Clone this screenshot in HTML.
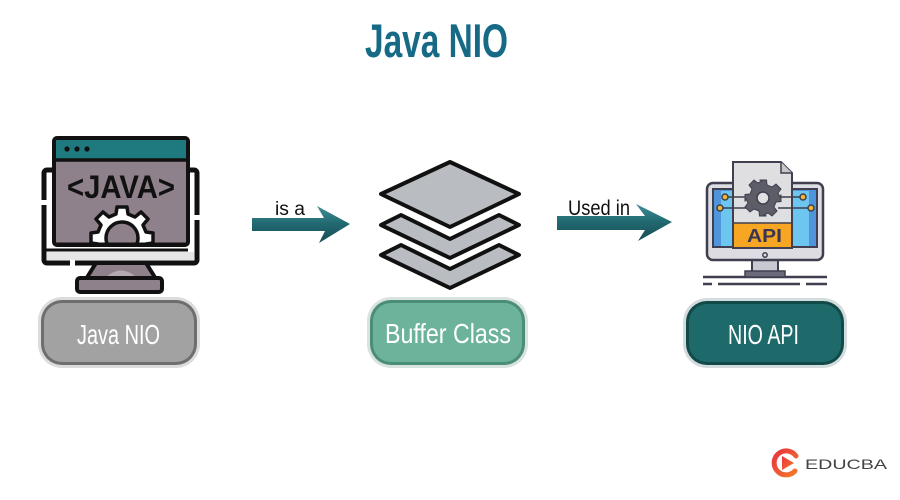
<!DOCTYPE html>
<html><head><meta charset="utf-8"><style>
html,body{margin:0;padding:0;background:#fff;}
svg{display:block;}
text{font-family:"Liberation Sans",Arial,sans-serif;}
</style></head><body>
<svg width="900" height="500" viewBox="0 0 900 500" xmlns="http://www.w3.org/2000/svg">
<defs>
<linearGradient id="arr" x1="0" y1="0" x2="0" y2="1">
<stop offset="0" stop-color="#3f8f95"/>
<stop offset="0.45" stop-color="#236b73"/>
<stop offset="1" stop-color="#164b52"/>
</linearGradient>
<linearGradient id="logo" x1="0" y1="0" x2="1" y2="1">
<stop offset="0" stop-color="#e8343f"/>
<stop offset="1" stop-color="#f47a2a"/>
</linearGradient>
<clipPath id="win"><rect x="56" y="162" width="130" height="81"/></clipPath>
</defs>

<!-- Title -->
<text x="365" y="57" font-size="47" font-weight="bold" fill="#166a86" textLength="143" lengthAdjust="spacingAndGlyphs">Java NIO</text>

<!-- ===== Java monitor icon ===== -->
<!-- monitor -->
<rect x="44" y="170" width="153" height="93" rx="3" fill="#fff" stroke="#111" stroke-width="5"/>
<rect x="47" y="252" width="147" height="8" fill="#e6e6e6"/>
<line x1="44" y1="250" x2="188" y2="250" stroke="#111" stroke-width="3"/>
<!-- gaps in outline -->
<rect x="41" y="200" width="6" height="5" fill="#fff"/>
<rect x="194" y="215" width="6" height="5" fill="#fff"/>
<rect x="70" y="260" width="5" height="6" fill="#fff"/>
<!-- neck -->
<path d="M96,263 L146,263 L156,279 L86,279 Z" fill="#8e818b" stroke="#111" stroke-width="4" stroke-linejoin="round"/>
<path d="M104,279 Q121,262 138,279 Z" fill="#b5aab2"/>
<!-- base -->
<rect x="77" y="278" width="85" height="14" rx="3" fill="#8e818b" stroke="#111" stroke-width="4"/>
<!-- window -->
<rect x="54" y="138" width="134" height="107" rx="3" fill="#8e818b" stroke="#111" stroke-width="4"/>
<path d="M56,140 H186 V160 H56 Z" fill="#1f7a80"/>
<line x1="54" y1="160" x2="188" y2="160" stroke="#111" stroke-width="3.5"/>
<circle cx="67" cy="149" r="2.6" fill="#111"/>
<circle cx="77" cy="149" r="2.6" fill="#111"/>
<circle cx="87" cy="149" r="2.6" fill="#111"/>
<text x="67" y="198" font-size="32" font-weight="bold" fill="#111" textLength="108" lengthAdjust="spacingAndGlyphs">&lt;JAVA&gt;</text>
<!-- gear -->
<g clip-path="url(#win)">
<g transform="translate(122,238)" stroke="#111" stroke-width="3.5" stroke-linejoin="round">
<path fill="#fff" d="M-5,-31 H5 L6,-24 L13,-21 L19,-26 L26,-19 L21,-13 L24,-6 L31,-5 V5 L24,6 L21,13 L26,19 L19,26 L13,21 L6,24 L5,31 H-5 L-6,24 L-13,21 L-19,26 L-26,19 L-21,13 L-24,6 L-31,5 V-5 L-24,-6 L-21,-13 L-26,-19 L-19,-26 L-13,-21 L-6,-24 Z"/>
<circle r="16" fill="#8e818b"/>
</g>
</g>
<line x1="54" y1="244" x2="188" y2="244" stroke="#111" stroke-width="3"/>

<!-- Pill 1 -->
<rect x="38" y="297" width="162" height="71" rx="24" fill="#dcdcdc"/>
<rect x="41" y="300" width="156" height="65" rx="21" fill="#6e6e6e"/>
<rect x="44" y="303" width="150" height="59" rx="18" fill="#a2a2a2"/>
<text x="77" y="344" font-size="28" fill="#fff" textLength="83" lengthAdjust="spacingAndGlyphs">Java NIO</text>

<!-- Arrow 1 -->
<path d="M252,218 L324,218 L317,206 L350,224 L319,243 L325,231 L252,231 Z" fill="url(#arr)"/>
<text x="275" y="215" font-size="19" fill="#111" textLength="30" lengthAdjust="spacingAndGlyphs">is a</text>

<!-- ===== Layers icon ===== -->
<g stroke="#111" stroke-width="4" stroke-linejoin="round" fill="#b9bcc1">
<path d="M450,162 L519,194 L450,227 L381,194 Z"/>
<path d="M381,225 L401,215 L450,239 L499,215 L519,225 L450,258 Z"/>
<path d="M381,255 L401,245 L450,269 L499,245 L519,255 L450,288 Z"/>
</g>

<!-- Pill 2 -->
<rect x="367" y="297" width="161" height="71" rx="24" fill="#d8e2de"/>
<rect x="370" y="300" width="155" height="65" rx="21" fill="#4a8d79"/>
<rect x="373" y="303" width="149" height="59" rx="18" fill="#6db39c"/>
<text x="385" y="343" font-size="28" fill="#fff" textLength="126" lengthAdjust="spacingAndGlyphs">Buffer Class</text>

<!-- Arrow 2 -->
<path d="M557,216 L645,216 L636,204 L672,222 L638,241 L645,230 L557,230 Z" fill="url(#arr)"/>
<text x="568" y="215" font-size="21" fill="#111" textLength="62" lengthAdjust="spacingAndGlyphs">Used in</text>

<!-- ===== API icon ===== -->
<line x1="703" y1="277" x2="827" y2="277" stroke="#3f3f4f" stroke-width="2.5"/>
<line x1="703" y1="284" x2="712" y2="284" stroke="#3f3f4f" stroke-width="2.5"/>
<line x1="718" y1="284" x2="800" y2="284" stroke="#3f3f4f" stroke-width="2.5"/>
<line x1="806" y1="284" x2="827" y2="284" stroke="#3f3f4f" stroke-width="2.5"/>
<rect x="752" y="259" width="26" height="13" fill="#c9c9d1" stroke="#3f3f4f" stroke-width="2"/>
<rect x="745" y="271" width="40" height="6" fill="#6a6a7a" stroke="#3f3f4f" stroke-width="1.5"/>
<rect x="707" y="183" width="116" height="77" rx="6" fill="#dcdce2" stroke="#3f3f4f" stroke-width="2.5"/>
<rect x="713" y="189" width="104" height="58" fill="#4f95dc" stroke="#3f3f4f" stroke-width="2"/>
<rect x="721" y="191" width="88" height="55" fill="#6cc6f0"/>
<circle cx="765" cy="255" r="2.2" fill="none" stroke="#3f3f4f" stroke-width="1.5"/>
<!-- document -->
<path d="M733,162 H781 L792,173 V248 H733 Z" fill="#dfdfe1" stroke="#3f3f4f" stroke-width="2"/>
<path d="M781,162 V173 H792" fill="#c8c8cc" stroke="#3f3f4f" stroke-width="1.5"/>
<rect x="734" y="223" width="57" height="24" fill="#f6a623"/>
<line x1="733" y1="223" x2="792" y2="223" stroke="#3f3f4f" stroke-width="1.5"/>
<text x="747" y="242" font-size="18" font-weight="bold" fill="#3a3550" textLength="35" lengthAdjust="spacingAndGlyphs">API</text>
<!-- circuits -->
<g stroke="#3f3f4f" stroke-width="1.5" fill="none">
<path d="M725,197 H746"/><path d="M720,208 H748"/>
<path d="M780,197 H803"/><path d="M778,208 H811"/>
</g>
<g fill="#f2b632" stroke="#3f3f4f" stroke-width="1.5">
<circle cx="725" cy="197" r="3"/><circle cx="720" cy="208" r="3"/>
<circle cx="803" cy="197" r="3"/><circle cx="811" cy="208" r="3"/>
</g>
<!-- gear -->
<g transform="translate(763,198)">
<path fill="#5d5d68" stroke="#3f3f4f" stroke-width="1" d="M-3.5,-18 H3.5 L4,-13 L9,-11 L13,-14 L18,-9 L15,-5 L17,-1 L18,-3.5 V3.5 L13,4 L11,9 L14,13 L9,18 L5,15 L1,17 L3.5,18 H-3.5 L-4,13 L-9,11 L-13,14 L-18,9 L-15,5 L-17,1 L-18,3.5 V-3.5 L-13,-4 L-11,-9 L-14,-13 L-9,-18 L-5,-15 L-1,-17 Z"/>
<circle r="12.5" fill="#5d5d68"/>
<circle r="6" fill="#e0e0e2" stroke="#3f3f4f" stroke-width="1.5"/>
</g>

<!-- Pill 3 -->
<rect x="683" y="298" width="164" height="70" rx="24" fill="#d2dcdc"/>
<rect x="686" y="301" width="158" height="64" rx="21" fill="#124a4a"/>
<rect x="689" y="304" width="152" height="58" rx="18" fill="#1e6a6a"/>
<text x="728" y="344" font-size="28" fill="#fff" textLength="71" lengthAdjust="spacingAndGlyphs">NIO API</text>

<!-- EDUCBA logo -->
<g transform="translate(786,463)">
<path d="M10,-7 A12,12 0 1 0 9,8" fill="none" stroke="url(#logo)" stroke-width="5" stroke-linecap="round"/>
<path d="M-4,-7 L8,0 L-4,7 Z" fill="url(#logo)"/>
</g>
<text x="805" y="469" font-size="14" fill="#444" textLength="82" lengthAdjust="spacingAndGlyphs">EDUCBA</text>
</svg>
</body></html>
